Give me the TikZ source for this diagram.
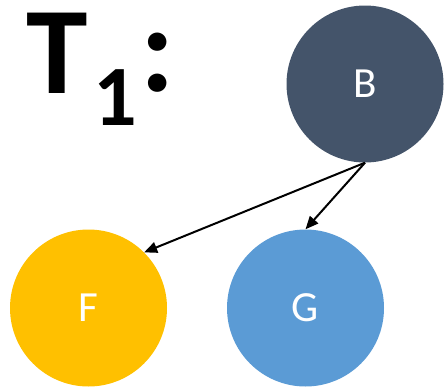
\documentclass[tikz,border=0pt]{standalone}
\usepackage{fontspec}
\setmainfont{Carlito}
\usetikzlibrary{arrows.meta}
\definecolor{slate}{HTML}{44546A}
\definecolor{gold}{HTML}{FFC000}
\definecolor{sky}{HTML}{5B9BD5}
\tikzset{
  vertex/.style={circle, minimum size=157pt, inner sep=0pt, text=white,
    font=\fontsize{43}{43}\selectfont},
  edge/.style={line width=2pt, -{Triangle[length=13pt,width=11pt]}},
  titletext/.style={inner sep=0pt, font=\fontsize{124}{124}\bfseries\selectfont},
}
\begin{document}
\begin{tikzpicture}[x=1pt,y=-1pt]
  \useasboundingbox (0,0) rectangle (444,388);
  % title T_1:
  \node[titletext, anchor=base west] (tT) at (26,93) {T};
  \node[inner sep=0pt, anchor=base west, font=\fontsize{86}{86}\bfseries\selectfont] (tone) at (93,125) {1};
  \node[titletext, anchor=base west] (tcolon) at (140,91) {:};
  % tree nodes
  \node[vertex, fill=slate] (B) at (365,84) {B};
  \node[vertex, fill=gold] (F) at (88.5,308) {F};
  \node[vertex, fill=sky] (G) at (305.5,308) {G};
  % edges
  \draw[edge] (B.south) -- (F.45);
  \draw[edge] (B.south) -- (G.north);
\end{tikzpicture}
\end{document}
